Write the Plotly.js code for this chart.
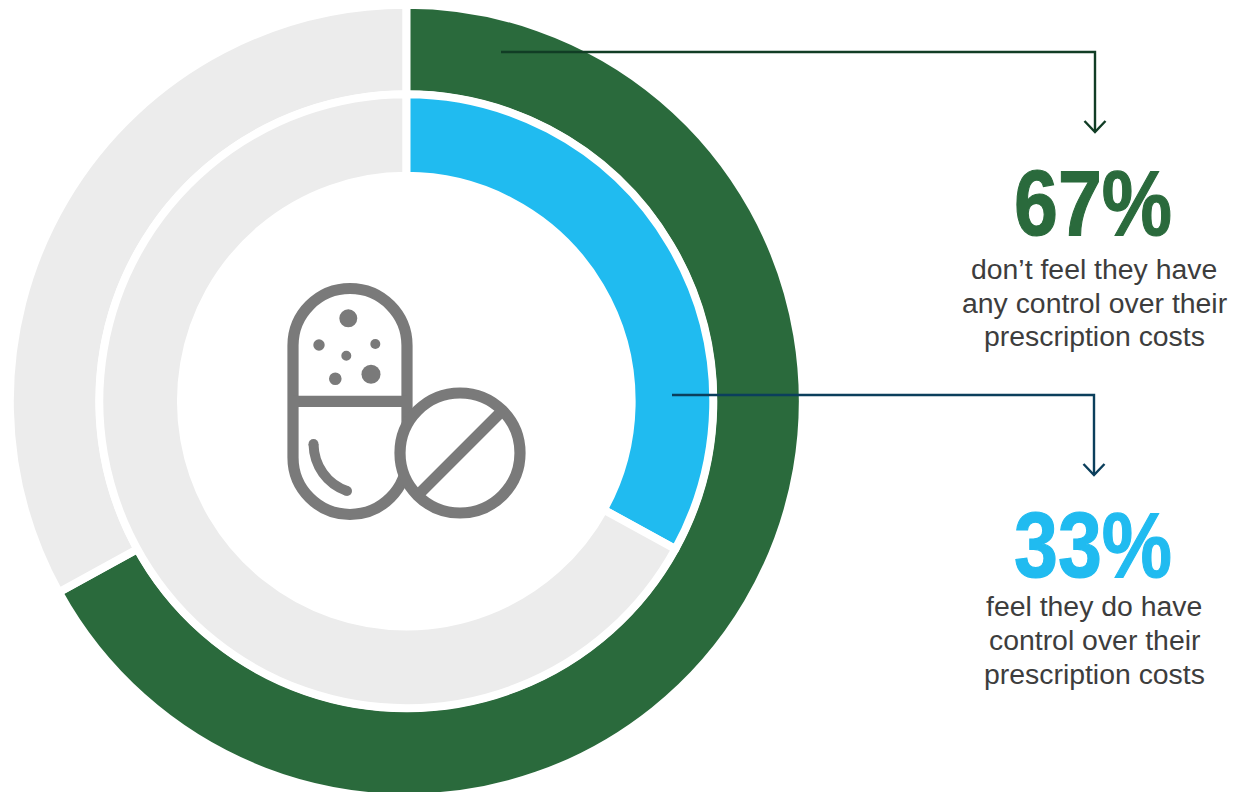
<!DOCTYPE html>
<html>
<head>
<meta charset="utf-8">
<script src="https://cdn.plot.ly/plotly-3.0.1.min.js"></script>
<style>html,body{margin:0;padding:0;background:#fff;overflow:hidden}#chart{width:1245px;height:800px}</style>
</head>
<body>
<div id="chart"></div>
<script>
const sliceLabels = ["Share", "Remainder"];
const outerValues = [67, 33];
const innerValues = [33, 67];
const outerColors = ["#2a6a3c", "#ececec"];
const innerColors = ["#20bbf0", "#ececec"];
const bigLabels = ["67%", "33%"];
const captionA = ["don’t feel they have", "any control over their", "prescription costs"];
const captionB = ["feel they do have", "control over their", "prescription costs"];

const W = 1245, H = 800, CX = 406.3, CY = 401.2;
const fx = x => x / W, fy = y => 1 - y / H;
const dom = R => ({x: [fx(CX - R), fx(CX + R)], y: [fy(CY + R), fy(CY - R)]});
const pie = (values, colors, R, hole) => ({
  type: "pie", values, labels: sliceLabels, sort: false, direction: "clockwise", rotation: 0,
  hole, domain: dom(R), textinfo: "none", hoverinfo: "skip", showlegend: false,
  marker: {colors, line: {color: "#ffffff", width: 8}}
});

const P = s => s.replace(/(-?[\d.]+),(-?[\d.]+)/g, (m, a, b) => fx(+a) + "," + fy(+b));
const path = (d, color, width, fill) => ({type: "path", xref: "paper", yref: "paper", path: P(d),
  line: {color, width}, fillcolor: fill || "rgba(0,0,0,0)"});
const circle = (x, y, r, color, width, fill) => ({type: "circle", xref: "paper", yref: "paper",
  x0: fx(x - r), x1: fx(x + r), y0: fy(y + r), y1: fy(y - r),
  line: {color, width}, fillcolor: fill});

const G = "#7a7a7a", S = 11.2;
const k = 57 * 0.5523;
const shapes = [
  path("M501,52 L1095,52 L1095,132", "#113d25", 2.4),
  path("M1084.5,121 L1095,132 L1105.5,121", "#113d25", 2.4),
  path("M672,395 L1094,395 L1094,475", "#0b3f5c", 2.4),
  path("M1083.5,464 L1094,475 L1104.5,464", "#0b3f5c", 2.4),
  path(`M293,345.5 C293,${345.5 - k} ${350 - k},288.5 350,288.5 C${350 + k},288.5 407,${345.5 - k} 407,345.5 L407,457.5 C407,${457.5 + k} ${350 + k},514.5 350,514.5 C${350 - k},514.5 293,${457.5 + k} 293,457.5 Z`, G, S),
  path("M293,401.3 L407,401.3", G, S),
  circle(460, 453, 60, G, S, "#ffffff"),
  path("M502,411 L418,495", G, S),
  path("M313.5,444 C314,466 327,484 347,491", G, 10),
  circle(313.5, 444, 5, G, 0, G),
  circle(347, 491, 5, G, 0, G),
  circle(348.3, 318.3, 9, G, 0, G),
  circle(319, 345, 5.7, G, 0, G),
  circle(375.3, 344, 5, G, 0, G),
  circle(346.3, 355.7, 5, G, 0, G),
  circle(371, 374.3, 9.5, G, 0, G),
  circle(335.3, 378.7, 6.3, G, 0, G)
];

const note = (text, x, y, size, color, family) => ({
  text, x: fx(x), y: fy(y), xref: "paper", yref: "paper", showarrow: false,
  xanchor: "center", yanchor: "middle", font: {size, color, family}
});
const sans = "Liberation Sans, Arial, sans-serif";
const annotations = [
  note("<b>" + bigLabels[0] + "</b>", 1093, 203, 92, outerColors[0], sans),
  note("<b>" + bigLabels[1] + "</b>", 1093, 545, 92, innerColors[0], sans),
  ...captionA.map((t, i) => note(t, 1094, [269, 302.5, 336][i], 28.4, "#3d3d3d", sans)),
  ...captionB.map((t, i) => note(t, 1094, [606, 640, 674][i], 28.4, "#3d3d3d", sans))
];

Plotly.newPlot("chart",
  [pie(outerValues, outerColors, 396.5, 0.7735), pie(innerValues, innerColors, 307, 0.734)],
  {width: W, height: H, margin: {l: 0, r: 0, t: 0, b: 0}, paper_bgcolor: "#ffffff", shapes, annotations},
  {displayModeBar: false, staticPlot: true}
).then(gd => {
  // The reference's percentages are set in a condensed heavy face: narrow the bold text to match.
  gd.querySelectorAll(".annotation-text").forEach(t => {
    if (bigLabels.includes(t.textContent)) {
      t.querySelectorAll("tspan").forEach(s => { s.setAttribute("textLength", 158); s.setAttribute("lengthAdjust", "spacingAndGlyphs"); });
      t.setAttribute("textLength", 158);
      t.setAttribute("lengthAdjust", "spacingAndGlyphs");
      t.style.stroke = t.style.fill;
      t.style.strokeWidth = "1.2px";
    }
  });
});
</script>
</body>
</html>
